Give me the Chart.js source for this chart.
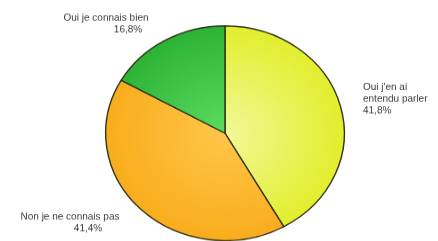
<!DOCTYPE html>
<html>
<head>
<meta charset="utf-8">
<script src="https://cdn.jsdelivr.net/npm/chart.js@4/dist/chart.umd.min.js"></script>
<style>
html,body{margin:0;padding:0;background:#fff;overflow:hidden;width:438px;height:241px;}
#wrap{position:absolute;left:0;top:0;width:438px;height:268px;transform:scaleY(0.9);transform-origin:0 0;}
</style>
</head>
<body>
<div id="wrap"><canvas id="c" width="438" height="268"></canvas></div>
<script>
// Data
const categories = ["Oui j'en ai entendu parler", "Non je ne connais pas", "Oui je connais bien"];
const values = [41.8, 41.4, 16.8];
const labelLines = [
  ["Oui j'en ai", "entendu parler"],
  ["Non je ne connais pas"],
  ["Oui je connais bien"]
];

// Styles
const innerColors = ['#f2f898', '#ffc64a', '#5cdc62'];
const outerColors = ['#e2ee2c', '#f9ad1c', '#2cb336'];
// label placement relative to pie centre: [dx, dy, align]
const labelPlace = [
  [138, -51, 'left'],
  [-155, 93, 'center'],
  [-119, -128, 'center']
];
const valueDx = [0, 18, 22];

function fmt(v){ return v.toFixed(1).replace('.', ',') + '%'; }

const labelPlugin = {
  id: 'sliceLabels',
  afterDatasetsDraw(chart) {
    const ctx = chart.ctx;
    const meta = chart.getDatasetMeta(0);
    ctx.save();
    ctx.font = '10px "Liberation Sans", Arial, sans-serif';
    ctx.fillStyle = '#3a3a3a';
    ctx.textBaseline = 'middle';
    meta.data.forEach((arc, i) => {
      const p = labelPlace[i];
      const x = arc.x + p[0];
      let y = arc.y + p[1];
      ctx.textAlign = p[2];
      const lines = labelLines[i].concat([fmt(values[i])]);
      lines.forEach((t, j) => {
        const isVal = j === lines.length - 1;
        ctx.fillText(t, x + (isVal ? valueDx[i] : 0), y);
        y += 13;
      });
    });
    ctx.restore();
  }
};

function sliceFill(c) {
  const i = c.dataIndex;
  const chart = c.chart;
  const a = chart.chartArea;
  if (!a || i === undefined) return outerColors[i || 0];
  const cx = (a.left + a.right) / 2, cy = (a.top + a.bottom) / 2;
  const r = Math.min(a.right - a.left, a.bottom - a.top) / 2;
  const g = chart.ctx.createRadialGradient(cx, cy, 0, cx, cy, r);
  g.addColorStop(0, innerColors[i]);
  g.addColorStop(1, outerColors[i]);
  return g;
}

new Chart(document.getElementById('c'), {
  type: 'pie',
  data: {
    labels: categories,
    datasets: [{
      data: values,
      backgroundColor: sliceFill,
      borderColor: '#33331a',
      borderWidth: 1.4
    }]
  },
  options: {
    responsive: false,
    animation: false,
    devicePixelRatio: 1,
    layout: { padding: { left: 105, right: 93, top: 28, bottom: 0 } },
    plugins: { legend: { display: false }, tooltip: { enabled: false } }
  },
  plugins: [labelPlugin]
});
</script>
</body>
</html>
